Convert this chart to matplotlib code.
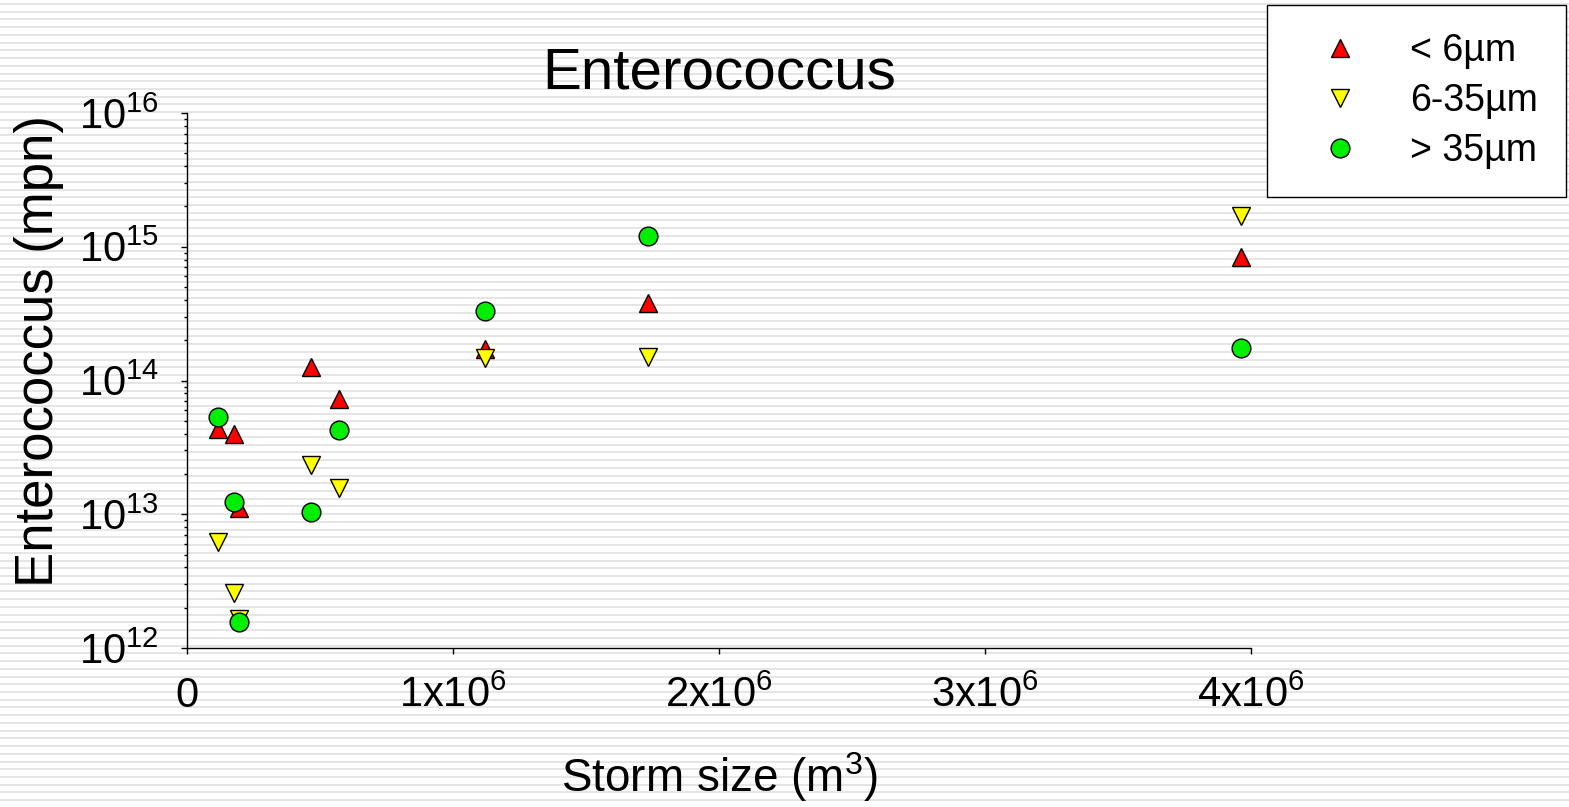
import matplotlib
matplotlib.use('Agg')
import matplotlib.pyplot as plt
from matplotlib.lines import Line2D
from matplotlib.ticker import FixedLocator, LogLocator, NullFormatter

# Storm size (m3) and Enterococcus load (mpn) per particle size class
storm_size = [0.1165e6, 0.1767e6, 0.197e6, 0.466e6, 0.571e6, 1.120e6, 1.733e6, 3.962e6]
under_6um = [4.37e13, 3.98e13, 1.12e13, 1.26e14, 7.33e13, 1.72e14, 3.8e14, 8.4e14]
from_6_to_35um = [6.2e12, 2.58e12, 1.65e12, 2.33e13, 1.56e13, 1.47e14, 1.50e14, 1.70e15]
over_35um = [5.36e13, 1.24e13, 1.56e12, 1.04e13, 4.23e13, 3.3e14, 1.20e15, 1.75e14]

series_labels = ['< 6µm', '6-35µm', '> 35µm']

x_ticks = [0, 1e6, 2e6, 3e6, 4e6]
x_tick_labels = [r'$\mathregular{0}$', r'$\mathregular{1x10^6}$', r'$\mathregular{2x10^6}$',
                 r'$\mathregular{3x10^6}$', r'$\mathregular{4x10^6}$']
y_ticks = [1e12, 1e13, 1e14, 1e15, 1e16]
y_tick_labels = [r'$\mathregular{10^{12}}$', r'$\mathregular{10^{13}}$', r'$\mathregular{10^{14}}$',
                 r'$\mathregular{10^{15}}$', r'$\mathregular{10^{16}}$']


def draw_chart():
    plt.rcParams['font.family'] = ['Liberation Sans', 'DejaVu Sans']
    plt.rcParams['mathtext.fontset'] = 'custom'
    plt.rcParams['mathtext.rm'] = 'Liberation Sans'
    plt.rcParams['mathtext.it'] = 'Liberation Sans:italic'
    plt.rcParams['mathtext.bf'] = 'Liberation Sans:bold'

    W, H = 1569, 807
    fig = plt.figure(figsize=(W / 100, H / 100), dpi=100)
    fig.patch.set_facecolor('white')

    # striped background over the whole figure
    y = 4.0
    while y < H:
        fig.add_artist(Line2D([0, 1], [1 - y / H, 1 - y / H], transform=fig.transFigure,
                              color='#e0e0e0', lw=1.2, zorder=-5))
        y += 7.73

    ax = fig.add_axes([187 / W, 1 - 648 / H, (1251 - 187) / W, (648 - 113) / H])
    ax.set_facecolor('none')

    marker_kw = dict(linestyle='none', markersize=13.5, markeredgecolor='black', markeredgewidth=1.0)
    h1, = ax.plot(storm_size, under_6um, marker='^', markerfacecolor='#ff0000', **marker_kw)
    h2, = ax.plot(storm_size, from_6_to_35um, marker='v', markerfacecolor='#ffff00', **marker_kw)
    h3, = ax.plot(storm_size, over_35um, marker='o', markerfacecolor='#00ee00', **marker_kw)

    ax.set_yscale('log')
    ax.set_xlim(0, 4e6)
    ax.set_ylim(1e12, 1e16)

    ax.xaxis.set_major_locator(FixedLocator(x_ticks))
    ax.set_xticklabels(x_tick_labels)
    ax.yaxis.set_major_locator(FixedLocator(y_ticks))
    ax.set_yticklabels(y_tick_labels)
    ax.yaxis.set_minor_locator(LogLocator(base=10, subs=range(2, 10)))
    ax.yaxis.set_minor_formatter(NullFormatter())

    for side in ['top', 'right']:
        ax.spines[side].set_visible(False)
    for side in ['left', 'bottom']:
        ax.spines[side].set_linewidth(1.0)

    ax.tick_params(axis='both', which='major', direction='out', length=4.3, width=1.0, labelsize=30)
    ax.tick_params(axis='y', which='minor', direction='out', length=2.5, width=1.0)
    ax.tick_params(axis='y', which='major', pad=16)
    ax.tick_params(axis='x', which='major', pad=38)
    for lab in ax.get_xticklabels():
        lab.set_verticalalignment('baseline')

    ax.set_title('Enterococcus', fontsize=42, pad=18)
    ax.set_xlabel(r'Storm size (m$^3$)', fontsize=33)
    ax.xaxis.set_label_coords(0.5, -0.19)
    ax.set_ylabel('Enterococcus (mpn)', fontsize=38)
    ax.yaxis.set_label_coords(-0.116, 0.555)

    leg = fig.legend([h1, h2, h3], series_labels, loc='upper left',
                     bbox_to_anchor=(1267 / W, 1 - 5 / H), borderaxespad=0, fontsize=27,
                     borderpad=0.75, labelspacing=0.37, handlelength=2.4,
                     handletextpad=0.67, fancybox=False, framealpha=1)
    leg.get_frame().set_edgecolor('black')
    leg.get_frame().set_linewidth(1.0)

    fig.savefig('out.png', dpi=100)


if __name__ == "__main__":
    draw_chart()
